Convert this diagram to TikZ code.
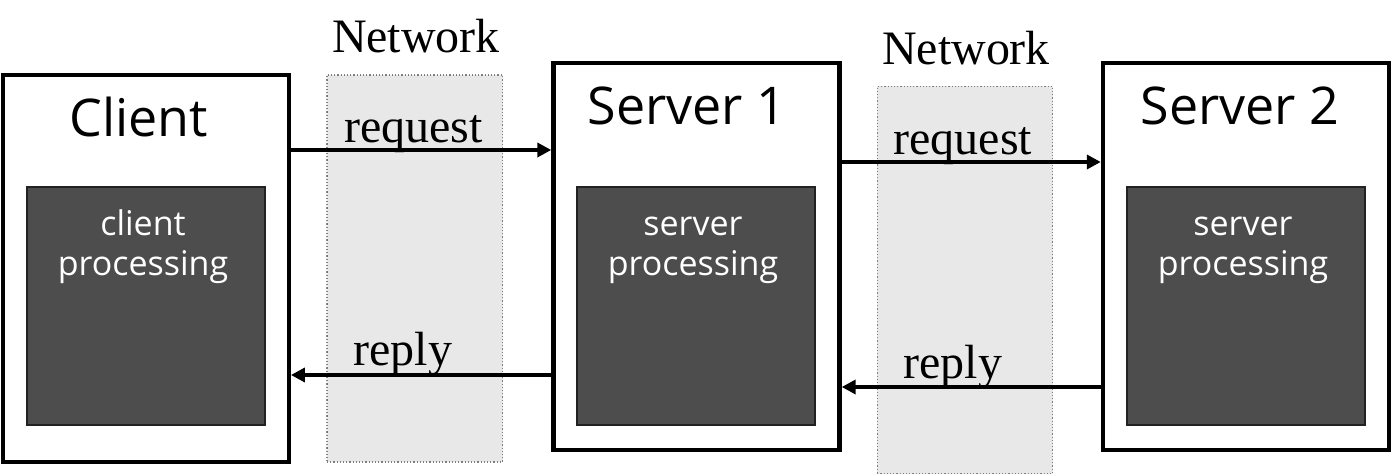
\documentclass[tikz,border=0pt]{standalone}
\usepackage{fontspec}
\newfontfamily\titlefont{Open Sans}
\newfontfamily\labelfont{Liberation Serif}
\usetikzlibrary{arrows.meta}
\definecolor{darkbox}{HTML}{4D4D4D}
\definecolor{darkedge}{HTML}{222222}
\definecolor{netfill}{HTML}{E8E8E8}
\definecolor{netdraw}{HTML}{7F7F7F}
\begin{document}
\begin{tikzpicture}[x=0.5pt,y=-0.5pt,
  machine/.style={draw=black,line width=2.2pt,fill=white,inner sep=0pt,minimum width=143pt,minimum height=193.5pt},
  proc/.style={draw=darkedge,line width=0.6pt,fill=darkbox,inner sep=0pt,minimum size=119pt},
  net/.style={draw=netdraw,densely dotted,line width=0.6pt,fill=netfill,inner sep=0pt,minimum width=87.75pt,minimum height=193.5pt},
  title/.style={font=\titlefont\fontsize{26}{30}\selectfont,anchor=base,inner sep=0pt},
  proctext/.style={font=\titlefont\fontsize{17}{20}\selectfont,text=white,align=center,anchor=base,inner sep=0pt},
  serif/.style={font=\labelfont\fontsize{24}{28}\selectfont,anchor=base,inner sep=0pt},
  arr/.style={line width=2pt,-{Triangle[length=7pt,width=7pt]}}]
\useasboundingbox (0,0) rectangle (1393,476);

% network bands
\node[net] (net1) at (414.75,268.5) {};
\node[net] (net2) at (965,280) {};
\node[serif] (netlabel1) at (416,53) {Network};
\node[serif] (netlabel2) at (966,65) {Network};

% machines
\node[machine] (client) at (145.75,268.25) {};
\node[machine] (server1) at (696.5,256.25) {};
\node[machine] (server2) at (1246,256.25) {};

\node[title] (clienttitle) at (138.5,137) {Client};
\node[title] (server1title) at (687,125) {Server 1};
\node[title] (server2title) at (1240,125) {Server 2};

\node[proc] (clientproc) at (146,306) {};
\node[proc] (server1proc) at (696,306) {};
\node[proc] (server2proc) at (1246,306) {};

\node[proctext] (clientproctext) at (143,275) {client\\processing};
\node[proctext] (server1proctext) at (693,275) {server\\processing};
\node[proctext] (server2proctext) at (1243,275) {server\\processing};

% message levels
\coordinate (req1) at (0,150);
\coordinate (rep1) at (0,375);
\coordinate (req2) at (0,162);
\coordinate (rep2) at (0,387);

\draw[arr] (client.east |- req1) -- (server1.west |- req1);
\draw[arr] (server1.west |- rep1) -- (client.east |- rep1);
\draw[arr] (server1.east |- req2) -- (server2.west |- req2);
\draw[arr] (server2.west |- rep2) -- (server1.east |- rep2);

\node[serif] (reqlabel1) at (413.5,143) {request};
\node[serif] (replabel1) at (403,365) {reply};
\node[serif] (reqlabel2) at (963,155) {request};
\node[serif] (replabel2) at (953,378) {reply};
\end{tikzpicture}
\end{document}
